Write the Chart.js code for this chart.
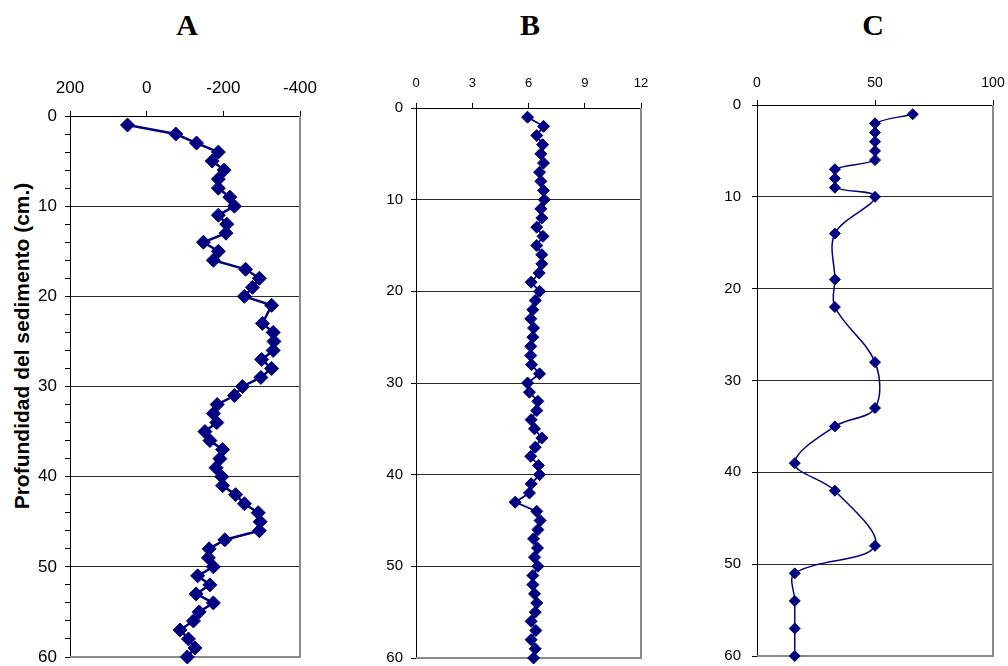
<!DOCTYPE html>
<html>
<head>
<meta charset="utf-8">
<title>Perfiles de sedimento</title>
<script src="https://cdn.jsdelivr.net/npm/chart.js@4.4.1/dist/chart.umd.min.js"></script>
<style>
  html, body { margin: 0; padding: 0; background: #ffffff; }
  #wrap { position: relative; width: 1008px; height: 666px; overflow: hidden; }
  canvas { position: absolute; }
  .letter {
    position: absolute; top: 8px; line-height: 30px;
    font: bold 30px "Liberation Serif", "Times New Roman", serif;
    transform: translateX(-50%); color: #000;
  }
  .ytitle {
    position: absolute; left: 22px; top: 346px; line-height: 1;
    transform: translate(-50%, -50%) rotate(-90deg);
    font: bold 21px "Liberation Sans", Arial, sans-serif;
    white-space: nowrap; color: #000;
  }
</style>
</head>
<body>
<div id="wrap">
  <div class="letter" style="left:187px">A</div>
  <div class="letter" style="left:530px">B</div>
  <div class="letter" style="left:873px">C</div>
  <div class="ytitle">Profundidad del sedimento (cm.)</div>
  <canvas id="chartA" width="320" height="606" style="left:0px;top:60px;width:320px;height:606px"></canvas>
  <canvas id="chartB" width="320" height="606" style="left:360px;top:60px;width:320px;height:606px"></canvas>
  <canvas id="chartC" width="318" height="606" style="left:690px;top:60px;width:318px;height:606px"></canvas>
</div>
<script>
// Panel A: depth (cm) and value per sample (no sample at 22 cm)
const depthA = [1,2,3,4,5,6,7,8,9,10,11,12,13,14,15,16,17,18,19,20,21,
                23,24,25,26,27,28,29,30,31,32,33,34,35,36,37,38,39,40,
                41,42,43,44,45,46,47,48,49,50,51,52,53,54,55,56,57,58,59,60];
const valuesA = [50,-76,-130,-187,-171,-202,-187,-187,-217,-229,-187,-209,-207,-148,-187,-174,-258,-294,-276,-255,-326,
                 -302,-330,-332,-330,-300,-326,-298,-250,-229,-184,-174,-183,-152,-165,-198,-191,-181,-196,
                 -198,-232,-255,-291,-296,-294,-204,-163,-161,-174,-133,-165,-129,-174,-137,-122,-87,-109,-126,-106];

// Panel B: one sample per centimetre
const depthB = [1,2,3,4,5,6,7,8,9,10,11,12,13,14,15,16,17,18,19,20,
                21,22,23,24,25,26,27,28,29,30,31,32,33,34,35,36,37,38,39,40,
                41,42,43,44,45,46,47,48,49,50,51,52,53,54,55,56,57,58,59,60];
const valuesB = [5.95,6.80,6.44,6.75,6.66,6.80,6.59,6.66,6.80,6.84,6.66,6.71,6.44,6.77,6.44,6.71,6.71,6.57,6.14,6.59,
                 6.36,6.23,6.12,6.27,6.23,6.12,6.12,6.16,6.59,5.95,6.05,6.50,6.44,6.14,6.32,6.71,6.36,6.12,6.53,6.59,
                 6.14,6.05,5.29,6.44,6.62,6.50,6.27,6.48,6.32,6.50,6.23,6.23,6.32,6.44,6.36,6.14,6.39,6.14,6.36,6.27];

// Panel C: sparse samples
const depthC = [1,2,3,4,5,6,7,8,9,10,14,19,22,28,33,35,39,42,48,51,54,57,60];
const valuesC = [66,50,50,50,50,50,33,33,33,50,33,33,33,50,50,33,16,33,50,16,16,16,16];

// Axis ticks
const ticksA = [200, 0, -200, -400];
const ticksB = [0, 3, 6, 9, 12];
const ticksC = [0, 50, 100];
const depthTicks = [0, 10, 20, 30, 40, 50, 60];

const NAVY = '#000080';
const FONT = '"Liberation Sans", Arial, sans-serif';

// Grey right and bottom edges of the plot area
const framePlugin = {
  id: 'frame',
  beforeDatasetsDraw(chart) {
    const { ctx, chartArea: a } = chart;
    ctx.save();
    ctx.strokeStyle = '#8a8a8a';
    ctx.lineWidth = 2;
    ctx.beginPath();
    ctx.moveTo(Math.round(a.right), a.top);
    ctx.lineTo(Math.round(a.right), Math.round(a.bottom));
    ctx.lineTo(a.left, Math.round(a.bottom));
    ctx.stroke();
    ctx.restore();
  }
};

function points(xs, ys) {
  return xs.map((v, i) => ({ x: v, y: ys[i] }));
}

function makePanel(id, o) {
  const minX = Math.min(...o.xTicks), maxX = Math.max(...o.xTicks);
  return new Chart(document.getElementById(id), {
    type: 'scatter',
    data: {
      datasets: [{
        data: points(o.values, o.depths),
        showLine: true,
        borderColor: NAVY,
        backgroundColor: NAVY,
        borderWidth: o.lineWidth,
        tension: o.tension,
        pointStyle: 'rectRot',
        pointRadius: o.radius,
        pointBorderWidth: 1,
        pointBorderColor: NAVY,
        pointBackgroundColor: NAVY,
        clip: false
      }]
    },
    options: {
      responsive: false,
      animation: false,
      devicePixelRatio: 1,
      events: [],
      layout: { padding: o.padding },
      plugins: { legend: { display: false }, tooltip: { enabled: false } },
      scales: {
        x: {
          type: 'linear',
          position: 'top',
          min: minX, max: maxX,
          reverse: o.reverseX,
          afterBuildTicks: s => { s.ticks = o.xTicks.map(v => ({ value: v })); },
          ticks: { color: '#000', font: { family: FONT, size: o.xFont }, padding: o.xPad, maxRotation: 0 },
          grid: { drawOnChartArea: false, drawTicks: true, tickLength: 5, color: '#000', tickColor: '#000' },
          border: { display: true, color: '#000', width: 1 },
          afterFit: s => { s.height = o.xHeight; s.paddingLeft = 0; s.paddingRight = 0; }
        },
        y: {
          type: 'linear',
          position: 'left',
          min: 0, max: 60,
          reverse: true,
          afterBuildTicks: s => { s.ticks = o.yTicks.map(v => ({ value: v })); },
          ticks: {
            color: '#000', font: { family: FONT, size: o.yFont }, padding: o.yPad, autoSkip: false,
            callback: v => (v % 10 === 0 ? String(v) : '')
          },
          grid: {
            drawOnChartArea: true, drawTicks: true, tickLength: 5, lineWidth: 1,
            color: c => (c.tick && c.tick.value % 10 === 0 && c.tick.value > 0 && c.tick.value < 60) ? '#2a2a2a' : 'rgba(0,0,0,0)',
            tickColor: '#000'
          },
          border: { display: true, color: '#000', width: 1 },
          afterFit: s => { s.width = o.yWidth; s.paddingTop = 0; s.paddingBottom = 0; }
        }
      }
    },
    plugins: [framePlugin]
  });
}

// minor depth ticks every 2 cm on panel A
const minorDepth = [];
for (let d = 0; d <= 60; d += 2) minorDepth.push(d);

makePanel('chartA', {
  depths: depthA, values: valuesA, xTicks: ticksA, yTicks: minorDepth, reverseX: true,
  lineWidth: 2.5, tension: 0, radius: 7,
  xFont: 17, yFont: 17, xPad: 12, yPad: 8, xHeight: 56, yWidth: 70,
  padding: { left: 0, top: 0, right: 20, bottom: 9 }
});

makePanel('chartB', {
  depths: depthB, values: valuesB, xTicks: ticksB, yTicks: depthTicks, reverseX: false,
  lineWidth: 1.8, tension: 0, radius: 6,
  xFont: 13, yFont: 15, xPad: 12, yPad: 8, xHeight: 48, yWidth: 56,
  padding: { left: 0, top: 0, right: 39, bottom: 8 }
});

makePanel('chartC', {
  depths: depthC, values: valuesC, xTicks: ticksC, yTicks: depthTicks, reverseX: false,
  lineWidth: 1.5, tension: 0.35, radius: 5.5,
  xFont: 14, yFont: 15, xPad: 8, yPad: 11, xHeight: 45, yWidth: 67,
  padding: { left: 0, top: 0, right: 15, bottom: 10 }
});
</script>
</body>
</html>
